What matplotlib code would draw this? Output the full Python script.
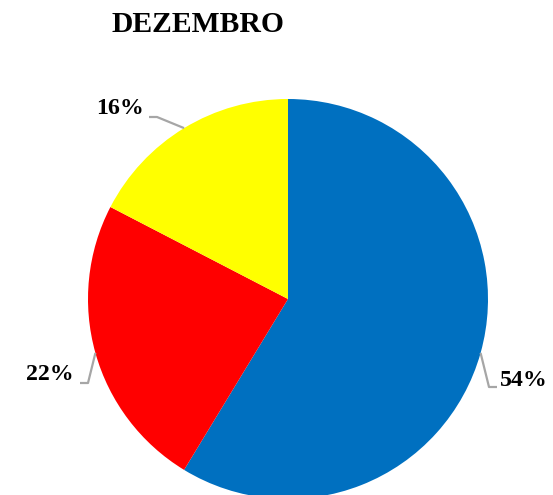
import numpy as np
import matplotlib
matplotlib.use("Agg")
import matplotlib.pyplot as plt

title = "DEZEMBRO"
values = [54, 22, 16]
labels = ["54%", "22%", "16%"]
colors = ["#0070C0", "#FF0000", "#FFFF00"]

W, H = 553, 495
fig = plt.figure(figsize=(W / 100, H / 100), dpi=100)
ax = fig.add_axes([0, 0, 1, 1])

cx, cy, r = 288, H - 299, 200
wedges, _ = ax.pie(values, colors=colors, startangle=90, counterclock=False,
                   center=(cx, cy), radius=r, frame=True,
                   wedgeprops=dict(linewidth=0))
ax.set_xlim(0, W)
ax.set_ylim(0, H)
ax.set_aspect("equal")
ax.axis("off")

# label layout (pixel coords, y from top): text centre, elbow, line end
layout = [
    dict(text=(524, 380), elbow=(489, 387), end=(497, 387)),
    dict(text=(50, 375), elbow=(88, 383), end=(80, 383)),
    dict(text=(120, 109), elbow=(157, 117), end=(149, 117)),
]

for w, lab, lay in zip(wedges, labels, layout):
    mid = np.deg2rad((w.theta1 + w.theta2) / 2)
    ex, ey = cx + r * np.cos(mid), cy + r * np.sin(mid)
    xs = [ex, lay["elbow"][0], lay["end"][0]]
    ys = [ey, H - lay["elbow"][1], H - lay["end"][1]]
    ax.plot(xs, ys, color="#A6A6A6", lw=1.6, solid_capstyle="butt")
    ax.text(lay["text"][0], H - lay["text"][1], lab, ha="center", va="center",
            fontsize=17.2, fontweight="bold", family="Liberation Serif", color="black")

fig.text(197.5 / W, 1 - 25 / H, title, ha="center", va="center",
         fontsize=21.3, fontweight="bold", family="Liberation Serif", color="black")

fig.savefig("out.png", dpi=100)
